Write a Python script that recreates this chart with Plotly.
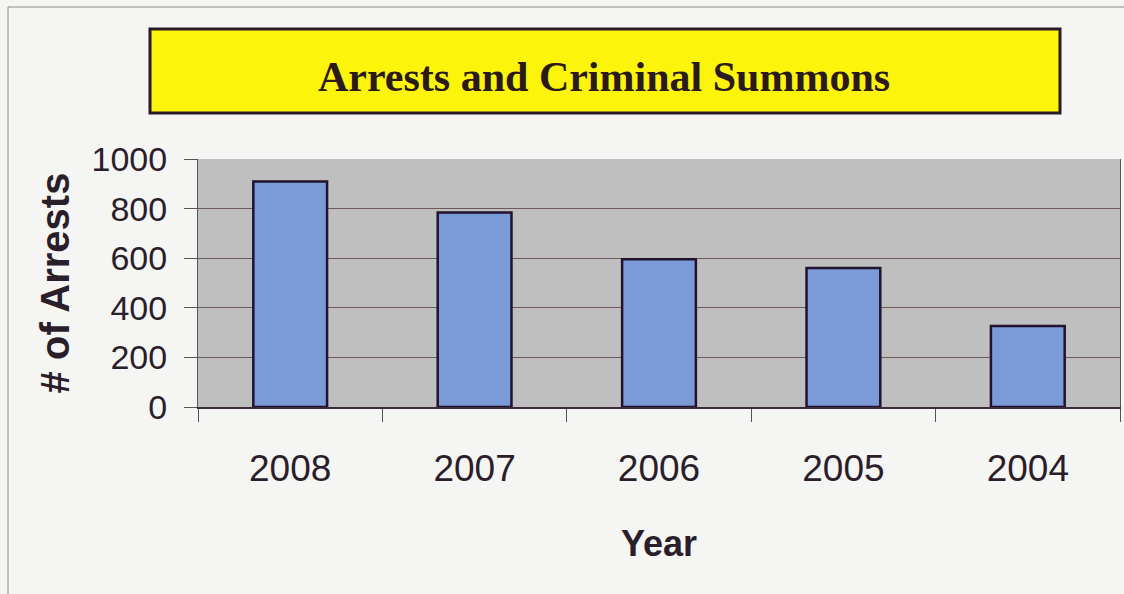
import plotly.graph_objects as go

years = ["2008", "2007", "2006", "2005", "2004"]
arrests = [909, 784, 596, 560, 327]
y_ticks = [0, 200, 400, 600, 800, 1000]

W, H = 1124, 594
L, R, T, B = 198, 1120, 159, 407

def px(x):
    return (x - L) / (R - L)

def py(y):
    return (B - y) / (B - T)

fig = go.Figure()
fig.add_trace(go.Bar(
    x=years, y=arrests,
    marker=dict(color="#7b9ad8", line=dict(color="#22122e", width=2.5)),
    width=0.4,
))

fig.update_layout(
    width=W, height=H,
    margin=dict(l=L, r=W - R, t=T, b=H - B, pad=0),
    paper_bgcolor="#f5f5f3",
    plot_bgcolor="#bfbfbf",
    showlegend=False,
    xaxis=dict(
        type="category",
        tickson="boundaries",
        ticks="outside", ticklen=13, tickcolor="#555555", tickwidth=1,
        showline=True, linecolor="#3a2a3a", linewidth=2, mirror=False,
        showgrid=False,
        tickfont=dict(family="Liberation Sans, Arial", size=37, color="#2a1e2a"),
        ticklabelstandoff=28,
        title=dict(text="<b>Year</b>", font=dict(family="Liberation Sans, Arial", size=36, color="#2a1e2a"), standoff=42),
    ),
    yaxis=dict(
        range=[0, 1000],
        tickvals=y_ticks,
        ticks="outside", ticklen=13, tickcolor="#555555", tickwidth=1,
        showline=True, linecolor="#555555", linewidth=1, mirror=True,
        showgrid=True, gridcolor="#6e5a5a", gridwidth=1,
        zeroline=False,
        tickfont=dict(family="Liberation Sans, Arial", size=34, color="#2a1e2a"),
        ticklabelstandoff=10,
        title=dict(text="<b># of Arrests</b>", font=dict(family="Liberation Sans, Arial", size=40, color="#2a1e2a"), standoff=9),
    ),
)

# outer chart frame
fig.add_shape(type="line", xref="paper", yref="paper",
              x0=px(8), x1=px(8), y0=py(7), y1=py(H), line=dict(color="#8a8a8a", width=1))
fig.add_shape(type="line", xref="paper", yref="paper",
              x0=px(8), x1=px(W), y0=py(7), y1=py(7), line=dict(color="#8a8a8a", width=1))

# title box
fig.add_shape(type="rect", xref="paper", yref="paper",
              x0=px(150), x1=px(1060), y0=py(113), y1=py(29),
              fillcolor="#fcf40a", line=dict(color="#2a1a2a", width=3))
fig.add_annotation(xref="paper", yref="paper", x=px(604), y=py(77),
                   text="<b>Arrests and Criminal Summons</b>", showarrow=False,
                   xanchor="center", yanchor="middle",
                   font=dict(family="Liberation Serif, Times New Roman", size=42, color="#2a1a1a"))

fig.write_html("out.html", config={"displayModeBar": False},
               post_script="document.body.style.margin='0';document.body.style.overflow='hidden';")
